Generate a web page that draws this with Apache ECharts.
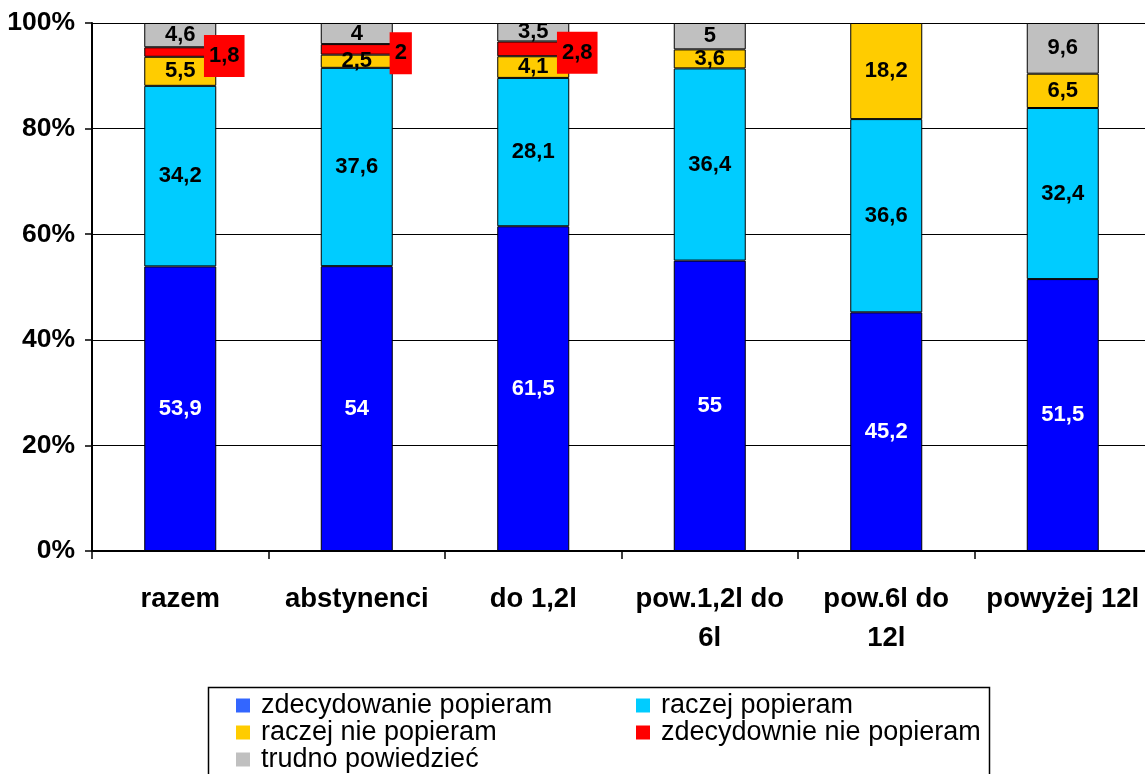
<!DOCTYPE html>
<html>
<head>
<meta charset="utf-8">
<script src="https://cdn.jsdelivr.net/npm/echarts@6/dist/echarts.min.js"></script>
<style>
html,body{margin:0;padding:0;background:#fff;}
#c{width:1145px;height:774px;}
</style>
</head>
<body>
<div id="c"></div>
<script>
const categories = ['razem', 'abstynenci', 'do 1,2l', 'pow.1,2l do\n6l', 'pow.6l do\n12l', 'powyżej 12l'];
const zdecydowaniePopieram = [53.9, 54, 61.5, 55, 45.2, 51.5];
const raczejPopieram = [34.2, 37.6, 28.1, 36.4, 36.6, 32.4];
const raczejNiePopieram = [5.5, 2.5, 4.1, 3.6, 18.2, 6.5];
const zdecydowanieNiePopieram = [1.8, 2, 2.8, null, null, null];
const trudnoPowiedziec = [4.6, 4, 3.5, 5, null, 9.6];
const seriesNames = ['zdecydowanie popieram', 'raczej popieram', 'raczej nie popieram', 'zdecydownie nie popieram', 'trudno powiedzieć'];
const seriesColors = ['#0000FF', '#00CCFF', '#FFCC00', '#FF0000', '#C0C0C0'];
const yTickValues = [0, 20, 40, 60, 80, 100];

const FONT = 'Liberation Sans, Arial, sans-serif';
const all = [zdecydowaniePopieram, raczejPopieram, raczejNiePopieram, zdecydowanieNiePopieram, trudnoPowiedziec];
const totals = categories.map((c, i) => all.reduce((s, a) => s + (a[i] || 0), 0));

function fmt(v) { return String(v).replace('.', ','); }

const series = all.map((arr, si) => {
  const isRed = si === 3;
  return {
    name: seriesNames[si],
    type: 'bar',
    stack: 'total',
    barWidth: 72,
    data: arr.map((v, i) => v == null ? null : { value: v / totals[i] * 100, raw: v }),
    itemStyle: { color: seriesColors[si], borderColor: '#000', borderWidth: 1 },
    label: {
      show: true,
      position: 'inside',
      offset: isRed ? [44, 4] : [0, 0],
      fontFamily: FONT,
      fontWeight: 'bold',
      fontSize: 22,
      color: si === 0 ? '#fff' : '#000',
      backgroundColor: isRed ? '#FF0000' : 'transparent',
      padding: isRed ? [10, 5, 10, 5] : 0,
      formatter: p => (p.data && p.data.raw != null) ? fmt(p.data.raw) : ''
    },
    emphasis: { disabled: true }
  };
});

const chart = echarts.init(document.getElementById('c'), null, { renderer: 'canvas' });
chart.setOption({
  animation: false,
  backgroundColor: '#fff',
  grid: { left: 92, top: 23, bottom: 223, width: 1059, containLabel: false, outerBoundsMode: 'none' },
  xAxis: {
    type: 'category',
    data: categories,
    axisLine: { lineStyle: { color: '#000', width: 2 } },
    axisTick: { show: true, length: 8, lineStyle: { color: '#000', width: 1.5 } },
    axisLabel: {
      interval: 0,
      margin: 29,
      fontFamily: FONT,
      fontWeight: 'bold',
      fontSize: 27.5,
      lineHeight: 39,
      color: '#000'
    }
  },
  yAxis: {
    type: 'value',
    min: yTickValues[0],
    max: yTickValues[yTickValues.length - 1],
    interval: 20,
    axisLine: { show: true, lineStyle: { color: '#000', width: 2 } },
    axisTick: { show: true, length: 7, lineStyle: { color: '#000', width: 1.5 } },
    splitLine: { show: true, lineStyle: { color: '#000', width: 1 } },
    axisLabel: {
      margin: 17,
      fontFamily: FONT,
      fontWeight: 'bold',
      fontSize: 26.5,
      color: '#000',
      formatter: '{value}%'
    }
  },
  legend: [
    {
      orient: 'vertical', left: 236, top: 692, padding: 0, itemGap: 0,
      itemWidth: 14, itemHeight: 14, icon: 'rect',
      itemStyle: { borderWidth: 0 },
      textStyle: { fontFamily: FONT, fontSize: 27, color: '#000', lineHeight: 27, padding: [0, 0, 0, 6] },
      data: [
        { name: seriesNames[0], itemStyle: { color: '#3366FF', borderWidth: 0 } },
        { name: seriesNames[2] },
        { name: seriesNames[4] }
      ],
      selectedMode: false
    },
    {
      orient: 'vertical', left: 636, top: 692, padding: 0, itemGap: 0,
      itemWidth: 14, itemHeight: 14, icon: 'rect',
      itemStyle: { borderWidth: 0 },
      textStyle: { fontFamily: FONT, fontSize: 27, color: '#000', lineHeight: 27, padding: [0, 0, 0, 6] },
      data: [
        { name: seriesNames[1] },
        { name: seriesNames[3] }
      ],
      selectedMode: false
    }
  ],
  graphic: [
    {
      type: 'rect', left: 206, top: 685, silent: true,
      shape: { width: 781, height: 120 },
      style: { fill: 'none', stroke: '#000', lineWidth: 1.5 }
    }
  ],
  series: series
});
</script>
</body>
</html>
